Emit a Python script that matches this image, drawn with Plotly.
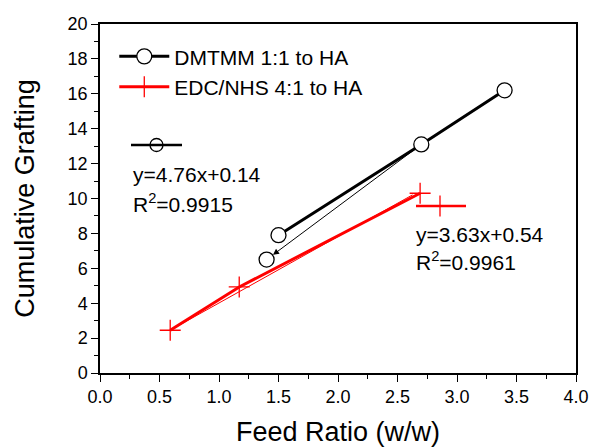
import plotly.graph_objects as go

# ---- data ----
dmtmm_x = [1.4, 1.5, 2.7, 3.4]
dmtmm_y = [6.5, 7.9, 13.1, 16.2]
edc_x = [0.59, 1.17, 2.69]
edc_y = [2.45, 4.93, 10.3]
dmtmm_name = "DMTMM 1:1 to HA"
edc_name = "EDC/NHS 4:1 to HA"
dmtmm_fit = ["y=4.76x+0.14", "R<sup>2</sup>=0.9915"]
edc_fit = ["y=3.63x+0.54", "R<sup>2</sup>=0.9961"]
x_ticks = [0.0, 0.5, 1.0, 1.5, 2.0, 2.5, 3.0, 3.5, 4.0]
y_ticks = [0, 2, 4, 6, 8, 10, 12, 14, 16, 18, 20]

FONT = "Liberation Sans, Arial, sans-serif"
RED = "#ff0000"

fig = go.Figure()

circle_marker = dict(symbol="circle", size=15, color="white",
                     line=dict(width=1.3, color="black"))
cross_marker = dict(symbol="cross-thin-open", size=15, color=RED,
                    line=dict(width=1.3, color=RED))

# DMTMM: thick line through upper points (legend entry)
fig.add_trace(go.Scatter(x=dmtmm_x[1:], y=dmtmm_y[1:], mode="lines+markers", name=dmtmm_name,
                         line=dict(color="black", width=3), marker=circle_marker,
                         hoverinfo="skip"))
# EDC/NHS line through points (legend entry)
fig.add_trace(go.Scatter(x=edc_x, y=edc_y, mode="lines+markers", name=edc_name,
                         line=dict(color=RED, width=3), marker=cross_marker,
                         hoverinfo="skip"))
# lone lowest DMTMM point
fig.add_trace(go.Scatter(x=dmtmm_x[:1], y=dmtmm_y[:1], mode="markers",
                         marker=circle_marker, showlegend=False, hoverinfo="skip"))

annotations = []
# thin arrow lines (from data arrays)
annotations.append(dict(x=dmtmm_x[0], y=dmtmm_y[0], ax=dmtmm_x[2], ay=dmtmm_y[2],
                        xref="x", yref="y", axref="x", ayref="y", text="",
                        showarrow=True, arrowhead=2, arrowsize=1.2, arrowwidth=1,
                        arrowcolor="black", standoff=8, startstandoff=8))
annotations.append(dict(x=edc_x[0], y=edc_y[0], ax=edc_x[2], ay=edc_y[2] + 0.15,
                        xref="x", yref="y", axref="x", ayref="y", text="",
                        showarrow=True, arrowhead=0, arrowwidth=1,
                        arrowcolor=RED, standoff=7, startstandoff=7))

# plot area in screen pixels: x 100..576, y 24..373
def px2paper(px, py):
    return (px - 100) / 476.0, (373 - py) / 349.0

TXT = dict(family=FONT, size=21, color="black")
for txt, (px, py) in zip(dmtmm_fit, [(131, 174), (131, 203)]):
    x, y = px2paper(px, py)
    annotations.append(dict(x=x, y=y, xref="paper", yref="paper", text=txt,
                            showarrow=False, xanchor="left", yanchor="middle", font=TXT))
for txt, (px, py) in zip(edc_fit, [(414, 234), (414, 261)]):
    x, y = px2paper(px, py)
    annotations.append(dict(x=x, y=y, xref="paper", yref="paper", text=txt,
                            showarrow=False, xanchor="left", yanchor="middle", font=TXT))

# fit legend symbols
shapes = []
x0, y0 = px2paper(131, 145)
x1, _ = px2paper(182, 145)
shapes.append(dict(type="line", xref="paper", yref="paper", x0=x0, x1=x1, y0=y0, y1=y0,
                   line=dict(color="black", width=2.5)))
xc, yc = px2paper(156.5, 145)
fig.add_trace(go.Scatter(x=[xc], y=[yc], xaxis="x2", yaxis="y2", mode="markers",
                         marker=dict(symbol="circle", size=13, color="white",
                                     line=dict(width=1.3, color="black")),
                         showlegend=False, hoverinfo="skip"))
x0, y0 = px2paper(416, 206)
x1, _ = px2paper(466, 206)
shapes.append(dict(type="line", xref="paper", yref="paper", x0=x0, x1=x1, y0=y0, y1=y0,
                   line=dict(color=RED, width=2.5)))
xc, yc = px2paper(440, 206)
fig.add_trace(go.Scatter(x=[xc], y=[yc], xaxis="x2", yaxis="y2", mode="markers",
                         marker=dict(symbol="cross-thin-open", size=15, color=RED,
                                     line=dict(width=1.3, color=RED)),
                         showlegend=False, hoverinfo="skip"))

axis_common = dict(showline=True, linecolor="black", linewidth=1.5, mirror=True,
                   ticks="outside", ticklen=7, tickwidth=1.2, tickcolor="black",
                   showgrid=False, zeroline=False, automargin=False,
                   tickfont=dict(family=FONT, size=18, color="black"))

fig.update_layout(
    width=590, height=447,
    margin=dict(l=100, r=14, t=24, b=74),
    paper_bgcolor="white", plot_bgcolor="white",
    xaxis=dict(range=[0, 4], tickvals=x_ticks, ticktext=[f"{v:.1f}" for v in x_ticks],
               minor=dict(ticks="outside", ticklen=4, tickwidth=1.2, tickcolor="black",
                          dtick=0.25),
               title=dict(text="Feed Ratio (w/w)", font=dict(family=FONT, size=27, color="black"),
                          standoff=16),
               **axis_common),
    yaxis=dict(range=[0, 20], tickvals=y_ticks,
               minor=dict(ticks="outside", ticklen=4, tickwidth=1.2, tickcolor="black",
                          dtick=1),
               title=dict(text="Cumulative Grafting", font=dict(family=FONT, size=27, color="black"),
                          standoff=25),
               **axis_common),
    xaxis2=dict(range=[0, 1], overlaying="x", visible=False),
    yaxis2=dict(range=[0, 1], overlaying="y", visible=False),
    legend=dict(x=0.03, y=0.965, xanchor="left", yanchor="top",
                bgcolor="rgba(0,0,0,0)", font=dict(family=FONT, size=21, color="black"),
                itemwidth=50, tracegroupgap=0),
    annotations=annotations,
    shapes=shapes,
)

fig.write_html("out.html", config={"displayModeBar": False},
               post_script="document.body.style.margin='0';document.body.style.overflow='hidden';")
